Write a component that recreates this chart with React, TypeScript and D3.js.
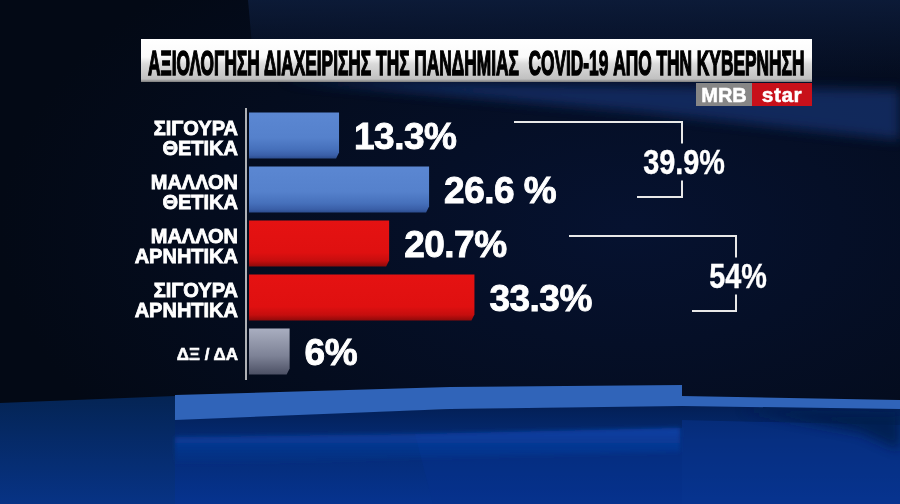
import React, { useLayoutEffect, useRef, useState } from "react";
import * as d3 from "d3";

const title = "ΑΞΙΟΛΟΓΗΣΗ ΔΙΑΧΕΙΡΙΣΗΣ ΤΗΣ ΠΑΝΔΗΜΙΑΣ  COVID-19 ΑΠΟ ΤΗΝ ΚΥΒΕΡΝΗΣΗ";
const categories: string[][] = [
  ["ΣΙΓΟΥΡΑ", "ΘΕΤΙΚΑ"],
  ["ΜΑΛΛΟΝ", "ΘΕΤΙΚΑ"],
  ["ΜΑΛΛΟΝ", "ΑΡΝΗΤΙΚΑ"],
  ["ΣΙΓΟΥΡΑ", "ΑΡΝΗΤΙΚΑ"],
  ["ΔΞ / ΔΑ"],
];
const values = [13.3, 26.6, 20.7, 33.3, 6];
const valueLabels = ["13.3%", "26.6 %", "20.7%", "33.3%", "6%"];
const barKinds = ["pos", "pos", "neg", "neg", "dk"];
const totalLabels = ["39.9%", "54%"];
const totalFirst = [0, 2];
const totalLast = [1, 3];

const W = 900;
const H = 504;
const FONT = "'Liberation Sans', Arial, sans-serif";
const TITLE_X = 148;
const TITLE_W = 656;

const bracketLayout = [
  { vx: 682, x0: 514, x1: 637, top: 9.5, bottom: 30.5 },
  { vx: 736, x0: 569, x1: 692, top: 15.5, bottom: 36.5 },
];

const gradId: Record<string, string> = { pos: "gBlue", neg: "gRed", dk: "gGray" };

export default function App() {
  const titleRef = useRef<SVGTextElement>(null);
  const [titleScale, setTitleScale] = useState(0.47);

  useLayoutEffect(() => {
    const el = titleRef.current;
    if (el) {
      const len = el.getComputedTextLength();
      if (len > 0) setTitleScale(TITLE_W / len);
    }
  }, []);

  const keys = categories.map((c) => c.join(" "));
  const x = d3.scaleLinear().domain([0, 50]).range([249, 249 + 338.5]);
  const y = d3
    .scaleBand<string>()
    .domain(keys)
    .range([108.5, 378.5])
    .paddingInner(0.15)
    .paddingOuter(0.075);
  const bw = y.bandwidth();

  const barPath = (v: number, i: number) => {
    const x0 = x(0);
    const x1 = x(v);
    const y0 = y(keys[i])!;
    const y1 = y0 + bw;
    return `M${x0},${y0}H${x1}V${y1 - 6}L${x1 - 3},${y1}H${x0}Z`;
  };

  return (
    <svg
      width={W}
      height={H}
      viewBox={`0 0 ${W} ${H}`}
      style={{ position: "fixed", left: 0, top: 0, display: "block" }}
    >
      <defs>
        <linearGradient id="gBlue" x1="0" y1="0" x2="0" y2="1">
          <stop offset="0" stopColor="#5b87d2" />
          <stop offset="0.55" stopColor="#5581cc" />
          <stop offset="0.8" stopColor="#4670bb" />
          <stop offset="0.93" stopColor="#3a5fa8" />
          <stop offset="1" stopColor="#2c4d8e" />
        </linearGradient>
        <linearGradient id="gRed" x1="0" y1="0" x2="0" y2="1">
          <stop offset="0" stopColor="#e51212" />
          <stop offset="0.7" stopColor="#df1010" />
          <stop offset="0.88" stopColor="#c50e0e" />
          <stop offset="1" stopColor="#8e0a0a" />
        </linearGradient>
        <linearGradient id="gGray" x1="0" y1="0" x2="0" y2="1">
          <stop offset="0" stopColor="#a9aec0" />
          <stop offset="0.6" stopColor="#7d8296" />
          <stop offset="1" stopColor="#4c5064" />
        </linearGradient>
        <linearGradient id="gTitle" x1="0" y1="0" x2="0" y2="1">
          <stop offset="0" stopColor="#ffffff" />
          <stop offset="0.42" stopColor="#fafafa" />
          <stop offset="0.58" stopColor="#dadada" />
          <stop offset="0.93" stopColor="#c0c0c0" />
          <stop offset="1" stopColor="#7c7c7c" />
        </linearGradient>
        <linearGradient id="gLeftBottom" x1="0" y1="0" x2="0" y2="1">
          <stop offset="0" stopColor="#042454" />
          <stop offset="1" stopColor="#073385" />
        </linearGradient>
        <linearGradient id="gMidBottom" x1="0" y1="0" x2="0" y2="1">
          <stop offset="0" stopColor="#031f55" />
          <stop offset="0.35" stopColor="#042a72" />
          <stop offset="1" stopColor="#06338f" />
        </linearGradient>
        <linearGradient id="gGlow" x1="0" y1="0" x2="0" y2="1">
          <stop offset="0" stopColor="#0b41a4" stopOpacity="1" />
          <stop offset="1" stopColor="#0b41a4" stopOpacity="0" />
        </linearGradient>
        <linearGradient id="gTopSheen" x1="0" y1="0" x2="0" y2="1">
          <stop offset="0" stopColor="#0e1e3e" stopOpacity="0.8" />
          <stop offset="1" stopColor="#0e1e3e" stopOpacity="0" />
        </linearGradient>
        <radialGradient id="gBg" cx="0.7" cy="0.45" r="0.7">
          <stop offset="0" stopColor="#061230" />
          <stop offset="1" stopColor="#030915" />
        </radialGradient>
        <filter id="blur6" x="-20%" y="-50%" width="140%" height="200%">
          <feGaussianBlur stdDeviation="6" />
        </filter>
        <filter id="blur2" x="-20%" y="-50%" width="140%" height="200%">
          <feGaussianBlur stdDeviation="2" />
        </filter>
      </defs>

      {/* background */}
      <rect x={0} y={0} width={W} height={H} fill="url(#gBg)" />
      <polygon points="248,0 900,0 900,75 252,45" fill="url(#gTopSheen)" />
      <polygon
        points="280,80 900,90 900,140 640,112"
        fill="#12336e"
        opacity={0.75}
        filter="url(#blur6)"
      />

      {/* bottom decoration */}
      <polygon points="0,403 175,396 175,504 0,504" fill="url(#gLeftBottom)" />
      <polygon points="175,418 450,409 682,405 900,408 900,504 175,504" fill="url(#gMidBottom)" />
      <polygon points="415,434 682,428 682,504 433,504" fill="#06318c" opacity={0.45} />
      <polygon points="682,420 900,425 900,504 682,504" fill="#07348f" opacity={0.5} />
      <polygon
        points="175,437 415,434 680,428 680,452 415,458 175,466"
        fill="url(#gGlow)"
        filter="url(#blur2)"
      />
      <polygon
        points="740,409 900,412 900,450 860,432"
        fill="#021a48"
        opacity={0.8}
        filter="url(#blur6)"
      />
      <polygon
        points="175,395 450,387 682,385 682,396 900,400 900,409 682,406 450,409 175,420"
        fill="#3064b9"
      />

      {/* title */}
      <rect x={141} y={39} width={671} height={43} fill="url(#gTitle)" />
      <g transform={`translate(${TITLE_X},75) scale(${titleScale},1)`}>
        <text
          ref={titleRef}
          x={0}
          y={0}
          fontFamily={FONT}
          fontWeight="bold"
          fontSize={35}
          fill="#000"
          stroke="#000"
          strokeWidth={1.6}
          style={{ whiteSpace: "pre" }}
        >
          {title}
        </text>
      </g>

      {/* logo */}
      <rect x={696} y={83} width={56} height={23} fill="#868686" />
      <rect x={752} y={83} width={60} height={23} fill="#c8101a" />
      <text
        x={724}
        y={102}
        textAnchor="middle"
        fontFamily={FONT}
        fontWeight="bold"
        fontSize={20}
        fill="#fff"
        stroke="#fff"
        strokeWidth={0.5}
      >
        MRB
      </text>
      <text
        x={782}
        y={102}
        textAnchor="middle"
        fontFamily={FONT}
        fontWeight="bold"
        fontSize={21}
        letterSpacing={0.5}
        fill="#fff"
        stroke="#fff"
        strokeWidth={0.5}
      >
        star
      </text>

      {/* axis line */}
      <line x1={246} x2={246} y1={108} y2={380} stroke="#e8e8e8" strokeWidth={1.5} />

      {/* bars */}
      {values.map((v, i) => (
        <path key={"b" + i} d={barPath(v, i)} fill={`url(#${gradId[barKinds[i]]})`} />
      ))}

      {/* category labels */}
      {categories.map((lines, i) => {
        const cy = y(keys[i])! + bw / 2;
        if (lines.length === 1) {
          return (
            <text
              key={"c" + i}
              x={238}
              y={cy + 8.5}
              textAnchor="end"
              fontFamily={FONT}
              fontWeight="bold"
              fontSize={17}
              fill="#fff"
              stroke="#fff"
              strokeWidth={0.6}
            >
              {lines[0]}
            </text>
          );
        }
        return (
          <g key={"c" + i}>
            {lines.map((l, j) => (
              <text
                key={j}
                x={238}
                y={cy - 1 + j * 20.5}
                textAnchor="end"
                fontFamily={FONT}
                fontWeight="bold"
                fontSize={20}
                fill="#fff"
                stroke="#fff"
                strokeWidth={0.8}
              >
                {l}
              </text>
            ))}
          </g>
        );
      })}

      {/* value labels */}
      {values.map((v, i) => (
        <text
          key={"v" + i}
          x={x(v) + 15}
          y={y(keys[i])! + bw / 2 + 13.5}
          fontFamily={FONT}
          fontWeight="bold"
          fontSize={37}
          letterSpacing={-0.5}
          fill="#fff"
          stroke="#fff"
          strokeWidth={0.9}
          style={{ whiteSpace: "pre" }}
        >
          {valueLabels[i]}
        </text>
      ))}

      {/* totals brackets */}
      {totalLabels.map((lab, k) => {
        const L = bracketLayout[k];
        const top = y(keys[totalFirst[k]])! + L.top;
        const bottom = y(keys[totalLast[k]])! + L.bottom;
        const mid = (top + bottom) / 2;
        const base = mid + 14;
        const gapTop = base - 30;
        const gapBottom = base + 7;
        const path = `M${L.x0},${top}H${L.vx}V${gapTop}M${L.vx},${gapBottom}V${bottom}H${L.x1}`;
        return (
          <g key={"t" + k}>
            <path d={path} fill="none" stroke="#e8e8e8" strokeWidth={2} />
            <text
              transform={`translate(${L.vx + 2},${base}) scale(0.8,1)`}
              textAnchor="middle"
              fontFamily={FONT}
              fontWeight="bold"
              fontSize={36}
              fill="#fff"
              stroke="#fff"
              strokeWidth={0.4}
            >
              {lab}
            </text>
          </g>
        );
      })}
    </svg>
  );
}
